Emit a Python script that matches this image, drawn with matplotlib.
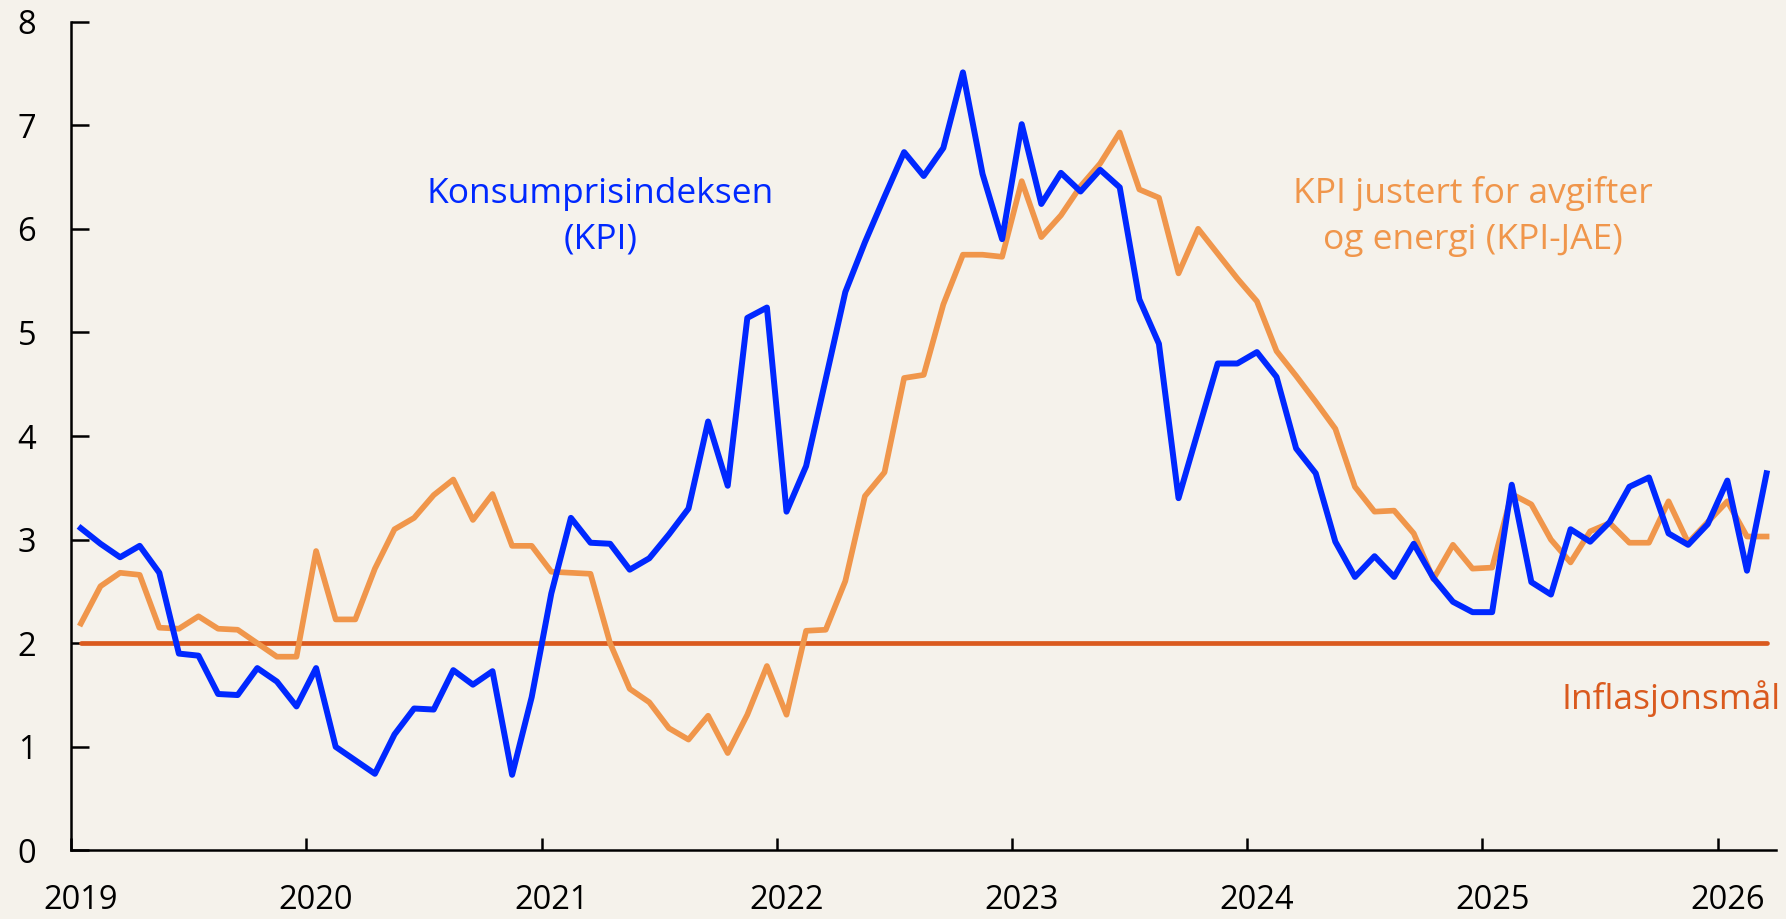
import numpy as np
import matplotlib
matplotlib.use('Agg')
import matplotlib.pyplot as plt

# monthly 12-month growth, jan 2019 - mar 2026
kpi = [3.11, 2.96, 2.83, 2.94, 2.68, 1.90, 1.88, 1.51, 1.50, 1.76, 1.63, 1.39,
       1.76, 1.00, 0.87, 0.74, 1.12, 1.37, 1.36, 1.74, 1.60, 1.73, 0.73, 1.48,
       2.48, 3.21, 2.97, 2.96, 2.71, 2.82, 3.05, 3.30, 4.14, 3.52, 5.14, 5.24,
       3.27, 3.71, 4.55, 5.39, 5.87, 6.31, 6.74, 6.51, 6.78, 7.51, 6.53, 5.90,
       7.01, 6.24, 6.54, 6.36, 6.57, 6.40, 5.32, 4.89, 3.40, 4.05, 4.70, 4.70,
       4.81, 4.57, 3.88, 3.64, 2.98, 2.64, 2.84, 2.64, 2.96, 2.63, 2.40, 2.30,
       2.30, 3.53, 2.59, 2.47, 3.10, 2.98, 3.17, 3.51, 3.60, 3.06, 2.95, 3.15,
       3.57, 2.70, 3.64]

kpi_jae = [2.19, 2.55, 2.68, 2.66, 2.15, 2.14, 2.26, 2.14, 2.13, 2.00, 1.87, 1.87,
           2.89, 2.23, 2.23, 2.72, 3.10, 3.21, 3.43, 3.58, 3.19, 3.44, 2.94, 2.94,
           2.69, 2.68, 2.67, 2.00, 1.56, 1.43, 1.18, 1.07, 1.30, 0.94, 1.31, 1.78,
           1.31, 2.12, 2.13, 2.60, 3.42, 3.65, 4.56, 4.59, 5.27, 5.75, 5.75, 5.73,
           6.46, 5.92, 6.13, 6.41, 6.63, 6.93, 6.38, 6.30, 5.57, 6.00, 5.76, 5.52,
           5.30, 4.82, 4.58, 4.33, 4.07, 3.51, 3.27, 3.28, 3.06, 2.62, 2.95, 2.72,
           2.73, 3.44, 3.34, 3.00, 2.78, 3.08, 3.16, 2.97, 2.97, 3.37, 2.97, 3.17,
           3.37, 3.03, 3.03]

target = 2.0
years = ['2019', '2020', '2021', '2022', '2023', '2024', '2025', '2026']

bg = '#F5F2EB'
blue = '#0028FF'
orange = '#F0964B'
red = '#DA5A1E'

plt.rcParams['font.family'] = ['Open Sans', 'DejaVu Sans']

fig = plt.figure(figsize=(17.86, 9.19), dpi=100, facecolor=bg)
ax = fig.add_axes([0.0398, 0.0746, 0.9548, 0.9019], facecolor=bg)

n = len(kpi)
x = np.arange(n)
ax.plot(x, [target] * n, color=red, lw=3.4, solid_capstyle='round', zorder=2)
ax.plot(x, kpi_jae, color=orange, lw=4.1, solid_joinstyle='round', zorder=3)
ax.plot(x, kpi, color=blue, lw=4.3, solid_joinstyle='round', zorder=4)

ax.set_xlim(-0.5, n - 0.5)
ax.set_ylim(0, 8)

# year boundaries as ticks, labels at january
ax.set_xticks(np.arange(len(years)) * 12 - 0.5)
ax.set_xticklabels([])
ax.set_xticks(np.arange(len(years)) * 12, minor=True)
ax.set_xticklabels(years, minor=True)
ax.tick_params(axis='x', which='major', direction='in', length=9, width=1.8)
ax.tick_params(axis='x', which='minor', length=0, pad=24, labelsize=23.5)
ax.set_yticks(range(9))
ax.tick_params(axis='y', direction='in', length=13, width=1.8, pad=25, labelsize=23.5)

for s in ['top', 'right']:
    ax.spines[s].set_visible(False)
for s in ['left', 'bottom']:
    ax.spines[s].set_linewidth(1.8)

ax.text(26.5, 6.12, 'Konsumprisindeksen\n(KPI)', color=blue, fontsize=25.5,
        ha='center', va='center', linespacing=1.45)
ax.text(71.0, 6.12, 'KPI justert for avgifter\nog energi (KPI-JAE)', color=orange,
        fontsize=25.5, ha='center', va='center', linespacing=1.45)
ax.text(86.7, 1.47, 'Inflasjonsmål', color=red, fontsize=25.5, ha='right', va='center')

plt.savefig('out.png', dpi=100, facecolor=bg)
